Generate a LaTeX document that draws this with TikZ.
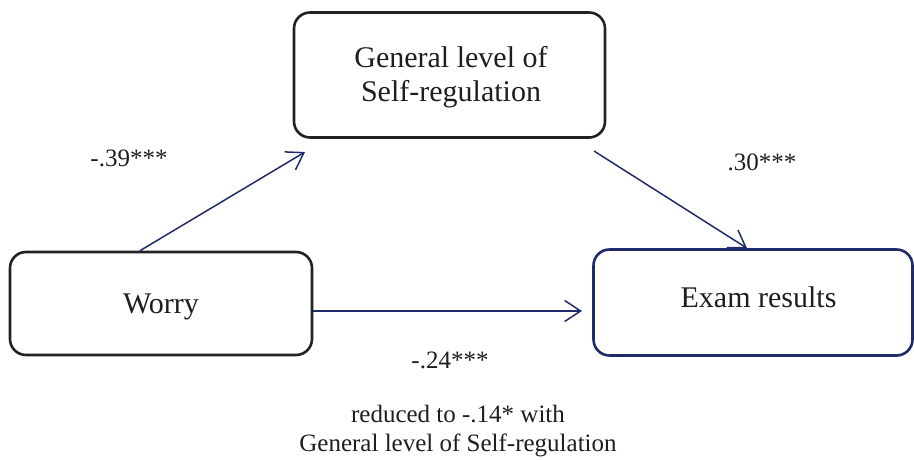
\documentclass[tikz,border=0pt]{standalone}
\usepackage{fontspec}
\setmainfont{Liberation Serif}
\usetikzlibrary{arrows.meta}
\definecolor{navy}{RGB}{32,44,104}
\definecolor{boxblack}{RGB}{34,34,34}
\definecolor{txt}{RGB}{30,30,30}
\tikzset{
  varbox/.style={draw=boxblack, line width=2.6pt, rounded corners=16pt,
    inner sep=0pt},
  navybox/.style={varbox, draw=navy},
  boxtext/.style={anchor=base, inner sep=0pt, align=center, text=txt,
    font=\fontsize{30}{34}\selectfont},
  path arrow/.style={draw=navy, line width=1.5pt,
    -{Straight Barb[length=16pt,width=21pt,line width=1.5pt]}},
  coef/.style={anchor=base, text=txt, inner sep=0pt, align=center,
    font=\fontsize{25}{29}\selectfont},
}
\begin{document}
\begin{tikzpicture}[x=1pt,y=1pt]
\useasboundingbox (0,0) rectangle (914,460);
% boxes
\node[varbox, minimum width=311pt, minimum height=125pt] (selfreg) at (449.5,385) {};
\node[varbox, minimum width=302pt, minimum height=103pt] (worry) at (161,156.5) {};
\node[navybox, minimum width=319pt, minimum height=106pt] (exam) at (753,157.5) {};
% box texts
\node[boxtext] (selfregtext) at (451,358) {General level of\\Self-regulation};
\node[boxtext] (worrytext) at (161,146) {Worry};
\node[boxtext] (examtext) at (758.5,152) {Exam results};
% connector end points
\coordinate (a1s) at ([xshift=-21pt]worry.north);
\coordinate (a1e) at (305,308);
\coordinate (a2s) at (594,309);
\coordinate (a2e) at ([xshift=-6pt]exam.north);
\coordinate (a3s) at ([yshift=-7.5pt]worry.east);
\coordinate (a3e) at (582,149);
% connectors
\draw[path arrow] (a1s) -- (a1e);
\draw[path arrow] (a2s) -- (a2e);
\draw[path arrow] (a3s) -- (a3e);
% coefficients
\node[coef] (c1) at (129,293) {-.39***};
\node[coef] (c2) at (762,289) {.30***};
\node[coef] (c3) at (450,91) {-.24***};
\node[coef] (c4) at (458,8)
  {reduced to -.14* with\\General level of Self-regulation};
\end{tikzpicture}
\end{document}
